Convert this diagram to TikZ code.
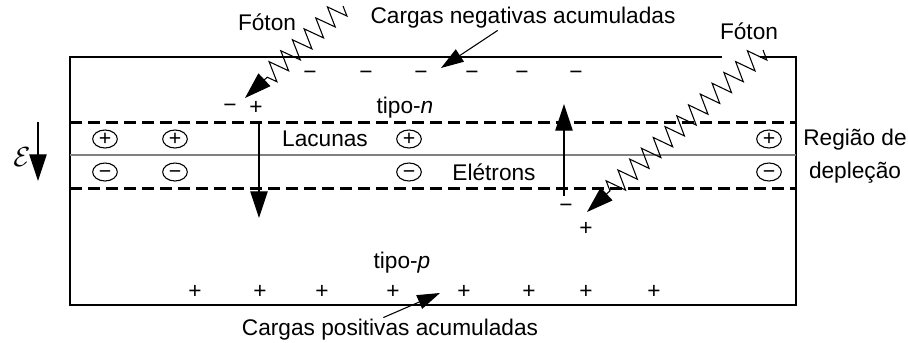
\documentclass[tikz,border=0pt]{standalone}
\usepackage{fontspec}
\setmainfont{Liberation Sans}
\usetikzlibrary{arrows.meta,decorations.pathmorphing,shapes.geometric}

\begin{document}
\begin{tikzpicture}[x=0.75pt,y=-0.75pt,line width=0.8pt,
  every node/.style={font=\fontsize{17}{25}\selectfont,inner sep=1pt},
  bigtip/.style={-{Triangle[length=20pt,width=13pt]}},
  smalltip/.style={-{Triangle[length=17pt,width=11pt]}},
  layer/.style={line width=2.25pt,dash pattern=on 9pt off 4.5pt},
  photon/.style={decorate,decoration={zigzag,segment length=12pt,amplitude=7.5pt,post length=22pt}},
  circ/.style={ellipse,draw,minimum width=18.5pt,minimum height=13.5pt,inner sep=0pt,font=\fontsize{16}{16}\selectfont}]
  \useasboundingbox (0,0) rectangle (908,343);
  % caixa e camadas
  \draw (722,57) -- (70,57) -- (70,305) -- (796,305) -- (796,57) -- (760,57);
  \draw[layer] (70,122) -- (796,122);
  \draw[layer] (70,188) -- (796,188);
  \draw[gray] (70,155) -- (796,155);
  % campo
  \node[font=\fontsize{21}{21}\selectfont] (field) at (22,157) {$\mathcal{E}$};
  \coordinate (fTop) at (38,122);
  \coordinate (fBot) at (38,181);
  \draw[bigtip] (fTop) -- (fBot);
  % cargas na regiao de deplecao
  \foreach \x in {105,175,409,769} {
    \node[circ] (hole\x) at (\x,139) {+};
    \node[circ] (elec\x) at (\x,172) {\vphantom{+}−};
  }
  \node (lacunas) at (325,139) {Lacunas};
  \node (eletrons) at (494,172) {Elétrons};
  \node[align=center] (regiao) at (855,156) {Região de\\depleção};
  \node (tipoN) at (405,108) {tipo-\textit{n}};
  \node (tipoP) at (402,263) {tipo-\textit{p}};
  % cargas acumuladas
  \foreach \x in {310,366,421,472,522,576}
    \node (neg\x) at (\x,75) {−};
  \foreach \x in {195,260,322,393,464,529,586,654}
    \node (pos\x) at (\x,292) {+};
  \node (negLbl) at (523,18) {Cargas negativas acumuladas};
  \node (posLbl) at (390,330) {Cargas positivas acumuladas};
  \coordinate (negTip) at (441,68);
  \coordinate (posTip) at (440,293);
  \draw[smalltip] ([xshift=-19pt]negLbl.south) -- (negTip);
  \draw[smalltip] ([xshift=-5pt]posLbl.north) -- (posTip);
  % fotons
  \node (foton1) at (267,22) {Fóton};
  \node (foton2) at (749,31) {Fóton};
  \coordinate (ph1) at (343,6);
  \coordinate (ph1tip) at (245,98);
  \coordinate (ph2) at (763,50);
  \coordinate (ph2tip) at (587,212);
  \draw[photon,bigtip] (ph1) -- (ph1tip);
  \draw[photon,bigtip] (ph2) -- (ph2tip);
  % pares gerados
  \node (m1) at (230,108) {−};
  \node (p1) at (256,108) {+};
  \node (m2) at (566,208) {−};
  \node (p2) at (586,229) {+};
  \coordinate (hStart) at (259,122);
  \coordinate (hEnd) at (259,218);
  \coordinate (eStart) at (564,196);
  \coordinate (eEnd) at (564,104);
  \draw[bigtip] (hStart) -- (hEnd);
  \draw[bigtip] (eStart) -- (eEnd);
\end{tikzpicture}
\end{document}
